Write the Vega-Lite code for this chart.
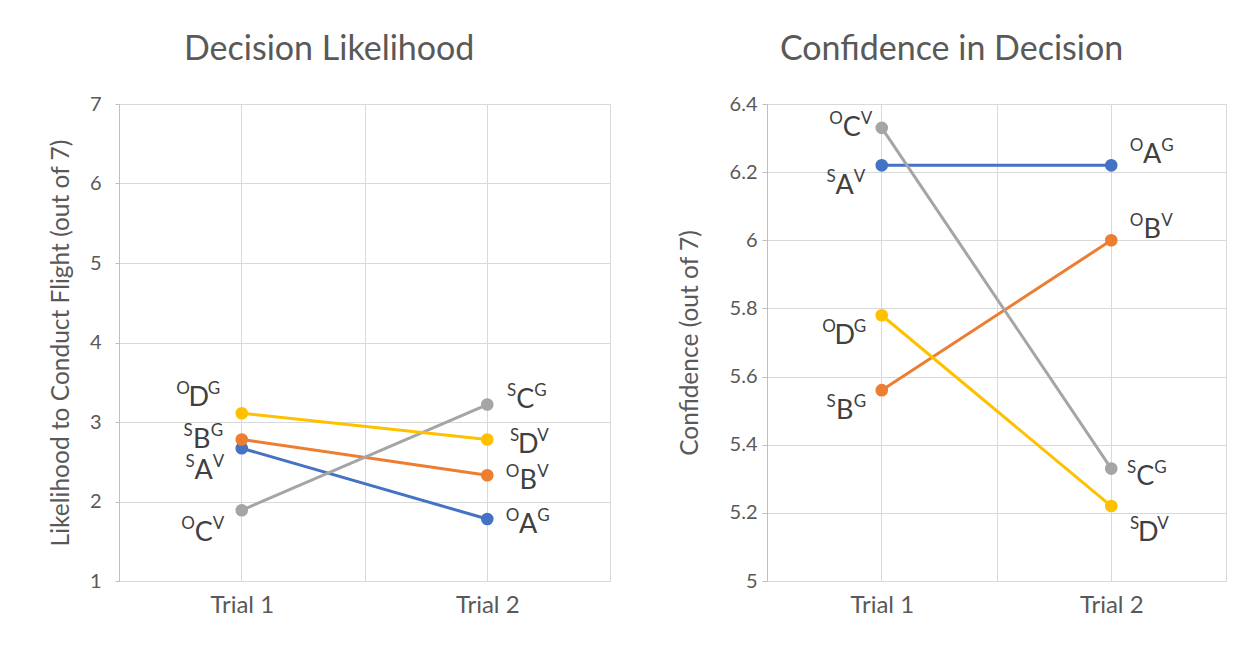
{
  "$schema": "https://vega.github.io/schema/vega-lite/v6.json",
  "background": "white",
  "padding": {"left": 47, "top": 32, "right": 5, "bottom": 5},
  "spacing": 65,
  "config": {
    "font": "Lato",
    "view": {"stroke": "#D9D9D9", "strokeWidth": 1},
    "axis": {
      "domain": false, "ticks": false, "labelColor": "#595959", "labelFontSize": 20,
      "labelFont": "Lato", "gridColor": "#D9D9D9", "gridWidth": 1,
      "titleColor": "#595959", "titleFont": "Lato", "titleFontSize": 24.5, "titleFontWeight": "normal"
    },
    "title": {"font": "Lato", "fontSize": 34, "fontWeight": "normal", "color": "#595959", "offset": 27, "frame": "bounds", "anchor": "middle"}
  },
  "datasets": {
    "likelihood": [
      {"trial": "Trial 1", "cond": "A", "value": 2.67, "prefix": "S", "suffix": "V", "pos": "below-left"},
      {"trial": "Trial 2", "cond": "A", "value": 1.78, "prefix": "O", "suffix": "G", "pos": "right"},
      {"trial": "Trial 1", "cond": "B", "value": 2.78, "prefix": "S", "suffix": "G", "pos": "left"},
      {"trial": "Trial 2", "cond": "B", "value": 2.33, "prefix": "O", "suffix": "V", "pos": "right"},
      {"trial": "Trial 1", "cond": "C", "value": 1.89, "prefix": "O", "suffix": "V", "pos": "below-left"},
      {"trial": "Trial 2", "cond": "C", "value": 3.22, "prefix": "S", "suffix": "G", "pos": "above-right"},
      {"trial": "Trial 1", "cond": "D", "value": 3.11, "prefix": "O", "suffix": "G", "pos": "above-left"},
      {"trial": "Trial 2", "cond": "D", "value": 2.78, "prefix": "S", "suffix": "V", "pos": "right"}
    ],
    "confidence": [
      {"trial": "Trial 1", "cond": "A", "value": 6.22, "prefix": "S", "suffix": "V", "pos": "below-left"},
      {"trial": "Trial 2", "cond": "A", "value": 6.22, "prefix": "O", "suffix": "G", "pos": "above-right"},
      {"trial": "Trial 1", "cond": "B", "value": 5.56, "prefix": "S", "suffix": "G", "pos": "below-left"},
      {"trial": "Trial 2", "cond": "B", "value": 6.0, "prefix": "O", "suffix": "V", "pos": "above-right"},
      {"trial": "Trial 1", "cond": "C", "value": 6.33, "prefix": "O", "suffix": "V", "pos": "left"},
      {"trial": "Trial 2", "cond": "C", "value": 5.33, "prefix": "S", "suffix": "G", "pos": "right"},
      {"trial": "Trial 1", "cond": "D", "value": 5.78, "prefix": "O", "suffix": "G", "pos": "below-left"},
      {"trial": "Trial 2", "cond": "D", "value": 5.22, "prefix": "S", "suffix": "V", "pos": "below-right"}
    ]
  },
  "hconcat": [
    {
      "width": 491, "height": 477,
      "title": "Decision Likelihood",
      "data": {"name": "likelihood"},
      "encoding": {
        "x": {"field": "trial", "type": "nominal", "axis": null, "scale": {"type": "band", "paddingInner": 0, "paddingOuter": 0}},
        "y": {"field": "value", "type": "quantitative", "scale": {"domain": [1, 7], "nice": false, "zero": false},
          "axis": {"title": "Likelihood to Conduct Flight (out of 7)", "values": [1, 2, 3, 4, 5, 6, 7], "format": "d", "labelFontSize": 20, "domain": true, "domainColor": "#BFBFBF", "ticks": true, "tickColor": "#BFBFBF", "tickSize": 4, "labelPadding": 14, "titlePadding": 16}}
      },
      "resolve": {"axis": {"x": "independent"}},
      "layer": [
        {
          "mark": {"type": "line", "strokeWidth": 3},
          "encoding": {
            "x": {"field": "trial", "type": "nominal", "axis": {"title": null, "labelAngle": 0, "labelFontSize": 24, "tickBand": "extent", "grid": true, "labelPadding": 12}},
            "color": {"field": "cond", "type": "nominal", "legend": null, "scale": {"domain": ["A", "B", "C", "D"], "range": ["#4472C4", "#ED7D31", "#A5A5A5", "#FFC000"]}},
            "order": {"field": "cond"}
          }
        },
        {
          "mark": {"type": "point", "filled": true, "opacity": 1, "size": 160},
          "encoding": {
            "x": {"field": "trial", "type": "nominal", "axis": {"orient": "top", "title": null, "labels": false, "grid": true, "tickBand": "center"}},
            "color": {"field": "cond", "type": "nominal", "legend": null}
          }
        },
        {
          "mark": {"type": "text", "fontSize": 27, "color": "#404040", "align": "center", "baseline": "middle",
            "dx": {"expr": "datum.pos=='left'?-40:datum.pos=='below-left'?-38:datum.pos=='above-left'?-43:datum.pos=='right'?41:datum.pos=='above-right'?38:36"},
            "dy": {"expr": "datum.pos=='left'?1:datum.pos=='below-left'?23:datum.pos=='above-left'?-15:datum.pos=='right'?6:datum.pos=='above-right'?-5:27"}},
          "encoding": {"text": {"field": "cond"}}
        },
        {
          "mark": {"type": "text", "fontSize": 17, "color": "#404040", "align": "right", "baseline": "middle",
            "dx": {"expr": "(datum.pos=='left'?-40:datum.pos=='below-left'?-38:datum.pos=='above-left'?-43:datum.pos=='right'?41:datum.pos=='above-right'?38:36)-9"},
            "dy": {"expr": "(datum.pos=='left'?1:datum.pos=='below-left'?23:datum.pos=='above-left'?-15:datum.pos=='right'?6:datum.pos=='above-right'?-5:27)-9"}},
          "encoding": {"text": {"field": "prefix"}}
        },
        {
          "mark": {"type": "text", "fontSize": 17, "color": "#404040", "align": "left", "baseline": "middle",
            "dx": {"expr": "(datum.pos=='left'?-40:datum.pos=='below-left'?-38:datum.pos=='above-left'?-43:datum.pos=='right'?41:datum.pos=='above-right'?38:36)+9"},
            "dy": {"expr": "(datum.pos=='left'?1:datum.pos=='below-left'?23:datum.pos=='above-left'?-15:datum.pos=='right'?6:datum.pos=='above-right'?-5:27)-9"}},
          "encoding": {"text": {"field": "suffix"}}
        }
      ]
    },
    {
      "width": 459, "height": 477,
      "title": "Confidence in Decision",
      "data": {"name": "confidence"},
      "encoding": {
        "x": {"field": "trial", "type": "nominal", "axis": null, "scale": {"type": "band", "paddingInner": 0, "paddingOuter": 0}},
        "y": {"field": "value", "type": "quantitative", "scale": {"domain": [5, 6.4], "nice": false, "zero": false},
          "axis": {"title": "Confidence (out of 7)", "values": [5, 5.2, 5.4, 5.6, 5.8, 6, 6.2, 6.4], "format": "~g", "labelFontSize": 20, "domain": true, "domainColor": "#BFBFBF", "ticks": true, "tickColor": "#BFBFBF", "tickSize": 5, "labelPadding": 5, "titlePadding": 27}}
      },
      "resolve": {"axis": {"x": "independent"}},
      "layer": [
        {
          "mark": {"type": "line", "strokeWidth": 3},
          "encoding": {
            "x": {"field": "trial", "type": "nominal", "axis": {"title": null, "labelAngle": 0, "labelFontSize": 24, "tickBand": "extent", "grid": true, "labelPadding": 12}},
            "color": {"field": "cond", "type": "nominal", "legend": null, "scale": {"domain": ["A", "B", "C", "D"], "range": ["#4472C4", "#ED7D31", "#A5A5A5", "#FFC000"]}},
            "order": {"field": "cond"}
          }
        },
        {
          "mark": {"type": "point", "filled": true, "opacity": 1, "size": 160},
          "encoding": {
            "x": {"field": "trial", "type": "nominal", "axis": {"orient": "top", "title": null, "labels": false, "grid": true, "tickBand": "center"}},
            "color": {"field": "cond", "type": "nominal", "legend": null}
          }
        },
        {
          "mark": {"type": "text", "fontSize": 27, "color": "#404040", "align": "center", "baseline": "middle",
            "dx": {"expr": "datum.pos=='left'?-30:datum.pos=='below-left'?-37:datum.pos=='above-left'?-43:datum.pos=='right'?34:datum.pos=='above-right'?41:37"},
            "dy": {"expr": "datum.pos=='left'?0:datum.pos=='below-left'?21:datum.pos=='above-left'?-15:datum.pos=='right'?8:datum.pos=='above-right'?-10:27"}},
          "encoding": {"text": {"field": "cond"}}
        },
        {
          "mark": {"type": "text", "fontSize": 17, "color": "#404040", "align": "right", "baseline": "middle",
            "dx": {"expr": "(datum.pos=='left'?-30:datum.pos=='below-left'?-37:datum.pos=='above-left'?-43:datum.pos=='right'?34:datum.pos=='above-right'?41:37)-9"},
            "dy": {"expr": "(datum.pos=='left'?0:datum.pos=='below-left'?21:datum.pos=='above-left'?-15:datum.pos=='right'?8:datum.pos=='above-right'?-10:27)-9"}},
          "encoding": {"text": {"field": "prefix"}}
        },
        {
          "mark": {"type": "text", "fontSize": 17, "color": "#404040", "align": "left", "baseline": "middle",
            "dx": {"expr": "(datum.pos=='left'?-30:datum.pos=='below-left'?-37:datum.pos=='above-left'?-43:datum.pos=='right'?34:datum.pos=='above-right'?41:37)+9"},
            "dy": {"expr": "(datum.pos=='left'?0:datum.pos=='below-left'?21:datum.pos=='above-left'?-15:datum.pos=='right'?8:datum.pos=='above-right'?-10:27)-9"}},
          "encoding": {"text": {"field": "suffix"}}
        }
      ]
    }
  ]
}
